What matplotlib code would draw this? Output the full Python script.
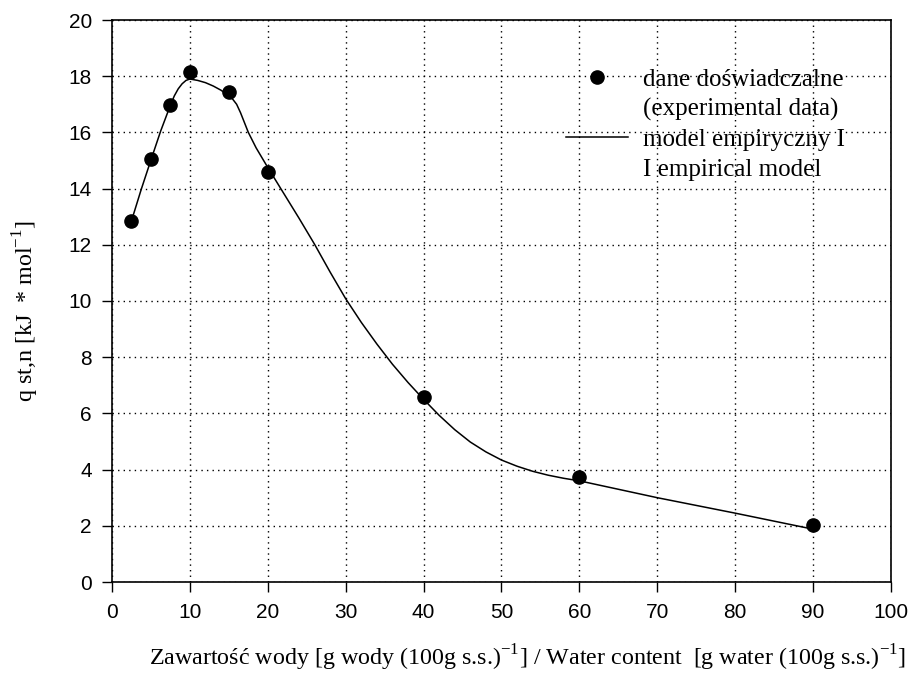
import matplotlib
matplotlib.use("Agg")
import matplotlib.pyplot as plt
from matplotlib.lines import Line2D

# experimental points
x_data = [2.5, 5, 7.5, 10, 15, 20, 40, 60, 90]
q_data = [12.85, 15.04, 16.99, 18.15, 17.42, 14.58, 6.57, 3.75, 2.03]

# empirical model curve
x_model = [2.5, 3.75, 5, 6.25, 7.5, 8, 8.5, 9, 9.5, 10, 11, 12, 13, 14, 15, 15.5,
           16, 16.5, 17, 17.5, 18.5, 20, 22, 24, 26, 28, 30, 32, 34, 36, 38, 40,
           42, 44, 46, 48, 50, 52, 54, 56, 58, 60, 65, 70, 80, 90]
q_model = [12.85, 13.97, 15.02, 16.05, 16.97, 17.3, 17.55, 17.73, 17.85, 17.9,
           17.85, 17.77, 17.65, 17.5, 17.3, 17.18, 17.0, 16.7, 16.35, 16.0, 15.45,
           14.75, 13.85, 12.95, 12.02, 11.03, 10.08, 9.24, 8.47, 7.75, 7.1, 6.5,
           5.93, 5.42, 4.98, 4.63, 4.34, 4.12, 3.94, 3.8, 3.69, 3.6, 3.3, 3.0,
           2.45, 1.88]

x_ticks = list(range(0, 101, 10))
y_ticks = list(range(0, 21, 2))

legend_labels = ['dane doświadczalne', '(experimental data)',
                 'model empiryczny I', 'I empirical model']

plt.rcParams['mathtext.fontset'] = 'custom'
plt.rcParams['mathtext.rm'] = 'Liberation Serif'

fig = plt.figure(figsize=(9.12, 6.76), dpi=100)
ax = fig.add_axes([112 / 912, 94 / 676, 779 / 912, 562 / 676])

ax.plot(x_model, q_model, '-', color='black', linewidth=1.1, zorder=3)
ax.plot(x_data, q_data, 'o', color='black', markersize=9.5, zorder=4)

ax.set_xlim(0, 100)
ax.set_ylim(0, 20)
ax.set_xticks(x_ticks)
ax.set_yticks(y_ticks)
ax.grid(True, color='black', linestyle=(0, (1, 3)), linewidth=1.0)
ax.set_axisbelow(True)

ax.tick_params(direction='out', length=7, width=1, top=False, right=False)
for lab in ax.get_yticklabels() + ax.get_xticklabels():
    lab.set_fontfamily('Liberation Sans')
    lab.set_fontsize(15)
ax.tick_params(axis='x', pad=8)
ax.tick_params(axis='y', pad=7.5)

for sp in ax.spines.values():
    sp.set_linewidth(1.2)

ax.set_xlabel('Zawartość wody [g wody (100g s.s.)$^{\\mathregular{-1}}$] / Water content  '
              '[g water (100g s.s.)$^{\\mathregular{-1}}$]',
              fontfamily='Liberation Serif', fontsize=17.3)
ax.xaxis.set_label_coords(0.5336, -0.108)
ax.set_ylabel('q st,n [kJ  * mol$^{\\mathregular{-1}}$]',
              fontfamily='Liberation Serif', fontsize=17.3)
ax.yaxis.set_label_coords(-0.0915, 0.482)

# legend: handles sit on the first line of each two-line entry
blank = Line2D([], [], linestyle='none')
handles = [Line2D([], [], marker='o', color='black', linestyle='none', markersize=9.5),
           blank,
           Line2D([], [], color='black', linewidth=1.1),
           blank]
ax.legend(handles, legend_labels, loc='upper left', bbox_to_anchor=(0.583, 0.914),
          frameon=False, prop={'family': 'Liberation Serif', 'size': 18},
          handlelength=2.46, handletextpad=0.6, labelspacing=0.29,
          borderpad=0, borderaxespad=0)

fig.savefig('out.png', dpi=100)
